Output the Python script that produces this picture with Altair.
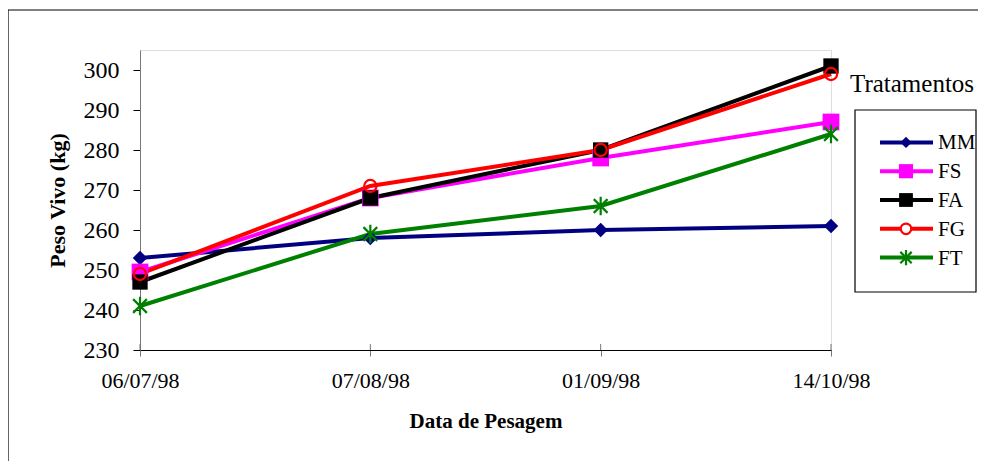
import altair as alt
import pandas as pd

# ---- data ----
dates = ["06/07/98", "07/08/98", "01/09/98", "14/10/98"]
series = ["MM", "FS", "FA", "FG", "FT"]
mm = [253, 258, 260, 261]
fs = [249.5, 268, 278, 287]
fa = [247, 268, 280, 301]
fg = [249, 271, 280, 299]
ft = [241, 259, 266, 284]
values = {"MM": mm, "FS": fs, "FA": fa, "FG": fg, "FT": ft}
y_ticks = [230, 240, 250, 260, 270, 280, 290, 300]

# ---- styles ----
colors = ["#000080", "#FF00FF", "#000000", "#FF0000", "#008000"]
shapes = ["diamond", "square", "square", "circle",
          "M-1,-1L1,1M-1,1L1,-1M0,-1.35L0,1.35"]
filled = {"MM": True, "FS": True, "FA": True, "FG": False, "FT": False}
sizes = {"MM": 210, "FS": 280, "FA": 235, "FG": 150, "FT": 190}
leg_sizes = {"MM": 130, "FS": 200, "FA": 190, "FG": 110, "FT": 130}
FONT = "Liberation Serif"

rows = []
for s in series:
    for i, (d, v) in enumerate(zip(dates, values[s])):
        rows.append({"idx": i, "date": d, "series": s, "value": v})
df = pd.DataFrame(rows)

color_enc = alt.Color("series:N", scale=alt.Scale(domain=series, range=colors), legend=None)
shape_enc = alt.Shape("series:N", scale=alt.Scale(domain=series, range=shapes), legend=None)

label_expr = "[" + ",".join("'" + d + "'" for d in dates) + "][datum.value]"
x_enc = alt.X(
    "idx:Q",
    scale=alt.Scale(domain=[0, len(dates) - 1], nice=False, zero=False),
    axis=alt.Axis(
        values=list(range(len(dates))), labelExpr=label_expr, labelFlush=False,
        title="Data de Pesagem", titleFont=FONT, titleFontSize=21, titleFontWeight="bold",
        titleColor="black", titlePadding=19,
        labelAngle=0, labelFont=FONT, labelFontSize=22, labelColor="black", labelPadding=14,
        domainColor="black", tickColor="#777777", tickSize=6, grid=False,
    ),
)
y_enc = alt.Y(
    "value:Q",
    scale=alt.Scale(domain=[230, 305], nice=False, zero=False),
    axis=alt.Axis(
        values=y_ticks, title="Peso Vivo (kg)", titleFont=FONT, titleFontSize=22,
        titleFontWeight="bold", titleColor="black", titlePadding=14,
        labelFont=FONT, labelFontSize=24, labelColor="black", labelPadding=14,
        domainColor="#777777", tickColor="black", tickSize=7, grid=False,
    ),
)

base = alt.Chart(df)
layers = []
for s in series:
    sub = base.transform_filter(alt.datum.series == s)
    layers.append(sub.mark_line(strokeWidth=4).encode(x=x_enc, y=y_enc, color=color_enc))
for s in series:
    sub = base.transform_filter(alt.datum.series == s)
    if filled[s]:
        pts = sub.mark_point(filled=True, opacity=1, size=sizes[s], strokeWidth=0)
    else:
        pts = sub.mark_point(filled=False, opacity=1, size=sizes[s], strokeWidth=2.2)
    layers.append(pts.encode(x=x_enc, y=y_enc, color=color_enc, shape=shape_enc))

# upward half of the x-axis ticks
tick_df = pd.DataFrame({"idx": list(range(len(dates)))})
up_ticks = alt.Chart(tick_df).mark_rule(color="#777777", strokeWidth=1).encode(
    x=alt.X("idx:Q"),
    y=alt.datum(230), y2=alt.datum(231.5),
)
main = alt.layer(up_ticks, *layers)

# ---- legend ----
leg_df = pd.DataFrame({"series": series})
one = pd.DataFrame({"a": [0]})
leg_y = alt.Y("series:N", sort=series,
              scale=alt.Scale(domain=series, range=[78, 222], padding=0), axis=None)
leg_base = alt.Chart(leg_df)
leg_layers = [
    alt.Chart(one).mark_rect(fillOpacity=0, stroke="black", strokeWidth=1.2).encode(
        x=alt.value(715), x2=alt.value(836), y=alt.value(60), y2=alt.value(242)),
    alt.Chart(one).mark_text(align="left", baseline="alphabetic", font=FONT,
                             fontSize=25, color="black").encode(
        x=alt.value(710), y=alt.value(42), text=alt.value("Tratamentos")),
    leg_base.mark_rule(strokeWidth=4).encode(
        x=alt.value(740), x2=alt.value(793), y=leg_y, color=color_enc),
]
for s in series:
    sub = leg_base.transform_filter(alt.datum.series == s)
    if filled[s]:
        pts = sub.mark_point(filled=True, opacity=1, size=leg_sizes[s], strokeWidth=0)
    else:
        pts = sub.mark_point(filled=False, opacity=1, size=leg_sizes[s], strokeWidth=2.2, fill="white")
    leg_layers.append(pts.encode(x=alt.value(766), y=leg_y, color=color_enc, shape=shape_enc))
leg_layers.append(
    leg_base.mark_text(align="left", baseline="middle", font=FONT, fontSize=21, color="black", dy=1).encode(
        x=alt.value(798), y=leg_y, text="series:N")
)
legend = alt.layer(*leg_layers)

# outer frame: only the top and left edges fall inside the picture
border_top = alt.Chart(one).mark_rule(color="black", strokeWidth=1.2).encode(
    x=alt.value(-132), x2=alt.value(1000), y=alt.value(-40))
border_left = alt.Chart(one).mark_rule(color="black", strokeWidth=1.2).encode(
    x=alt.value(-132), y=alt.value(-40), y2=alt.value(600))

chart = alt.layer(border_top, border_left, main, legend).resolve_scale(y="independent").properties(
    width=691, height=300,
    autosize=alt.AutoSizeParams(type="none"),
    padding={"left": 132, "top": 42, "right": 147, "bottom": 111},
).configure_view(strokeWidth=0).configure(background="white")

chart.save("out.html", embed_options={"renderer": "svg", "actions": False})
